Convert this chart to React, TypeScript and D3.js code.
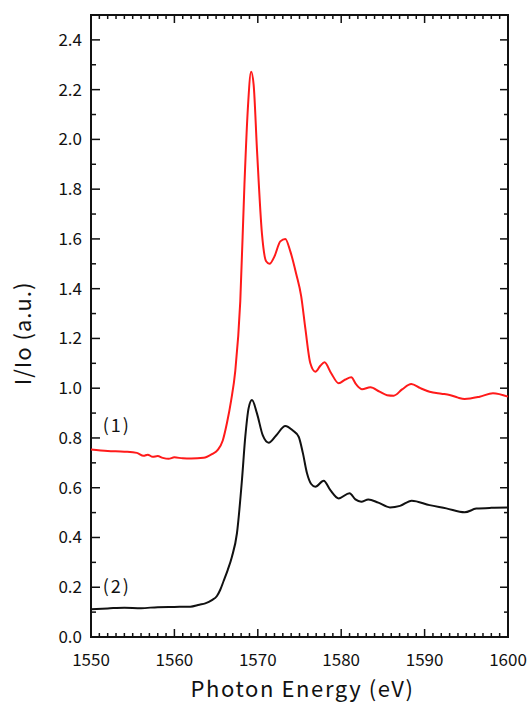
import React, { useEffect, useRef } from 'react';
import * as d3 from 'd3';

// spectrum (1), red
const energy1 = [1550, 1552, 1554, 1555.5, 1556.3, 1556.8, 1557.4, 1558, 1558.6, 1559.3, 1560, 1561, 1562, 1563.5, 1564.5, 1565.2, 1565.8, 1566.3, 1566.8, 1567.3, 1567.9, 1568.4, 1568.8, 1569.2, 1569.5, 1569.9, 1570.5, 1571.0, 1571.4, 1572.0, 1572.7, 1573.3, 1573.9, 1574.6, 1575.2, 1575.7, 1576.3, 1576.9, 1577.5, 1578.0, 1578.8, 1579.7, 1580.5, 1581.2, 1581.8, 1582.5, 1583.5, 1584.6, 1585.5, 1586.3, 1587.3, 1588.4, 1589.5, 1590.6, 1592, 1593, 1594, 1594.8, 1596.6, 1598.2, 1600];
const intensity1 = [0.754, 0.748, 0.745, 0.74, 0.728, 0.733, 0.724, 0.727, 0.72, 0.716, 0.722, 0.718, 0.717, 0.72, 0.735, 0.752, 0.79, 0.86, 0.95, 1.07, 1.35, 1.82, 2.12, 2.272, 2.22, 1.96, 1.62, 1.51, 1.5, 1.53, 1.59, 1.6, 1.55, 1.46, 1.37, 1.24, 1.1, 1.066, 1.09, 1.104, 1.06, 1.02, 1.035, 1.044, 1.015, 0.996, 1.004, 0.986, 0.972, 0.97, 0.995, 1.017, 1.0, 0.986, 0.978, 0.973, 0.962, 0.957, 0.966, 0.98, 0.966];

// spectrum (2), black
const energy2 = [1550, 1552, 1554, 1556, 1558, 1560, 1561.9, 1563, 1563.7, 1564.5, 1565.1, 1565.5, 1565.9, 1566.4, 1566.9, 1567.5, 1568.1, 1568.5, 1568.9, 1569.3, 1569.9, 1570.6, 1571.3, 1572.2, 1573.3, 1574.2, 1574.9, 1575.4, 1575.9, 1576.4, 1576.9, 1577.9, 1578.7, 1579.7, 1581.0, 1581.7, 1582.4, 1583.25, 1584.45, 1585.85, 1587.05, 1588.45, 1590.6, 1592.6, 1594.8, 1596.2, 1598, 1600];
const intensity2 = [0.112, 0.115, 0.118, 0.116, 0.12, 0.121, 0.122, 0.13, 0.135, 0.148, 0.165, 0.19, 0.225, 0.27, 0.323, 0.417, 0.631, 0.805, 0.92, 0.953, 0.899, 0.81, 0.781, 0.81, 0.848, 0.83, 0.805, 0.74, 0.658, 0.615, 0.604, 0.628, 0.59, 0.557, 0.578, 0.553, 0.544, 0.553, 0.54, 0.521, 0.527, 0.548, 0.53, 0.517, 0.501, 0.516, 0.519, 0.52];

const xTicks = [1550, 1560, 1570, 1580, 1590, 1600];
const yTicks = [0, 0.2, 0.4, 0.6, 0.8, 1.0, 1.2, 1.4, 1.6, 1.8, 2.0, 2.2, 2.4];

const seriesLabels = ['(1)', '(2)'];
const labelAnchors = [0.85, 0.2]; // baseline level of each curve label

const W = 531;
const H = 702;
const FONT = '"Noto Sans CJK JP", "Noto Sans", sans-serif';
const INK = '#111';

export default function App() {
  const ref = useRef<SVGSVGElement>(null);

  useEffect(() => {
    const svg = d3.select(ref.current);
    svg.selectAll('*').remove();

    const margin = { top: 15, right: 23, bottom: 65, left: 91 };
    const width = W - margin.left - margin.right;
    const height = H - margin.top - margin.bottom;

    const x = d3.scaleLinear().domain([1550, 1600]).range([0, width]);
    const y = d3.scaleLinear().domain([0, 2.5]).range([height, 0]);

    const g = svg.append('g').attr('transform', `translate(${margin.left},${margin.top})`);

    const xMinor = d3.range(1550, 1600.5, 1);
    const yMinor = d3.range(0, 2.55, 0.1);

    // bottom axis
    const bottom = g.append('g').attr('transform', `translate(0,${height})`);
    bottom.selectAll('line').data(xMinor).enter().append('line')
      .attr('x1', d => x(d)).attr('x2', d => x(d))
      .attr('y1', 0).attr('y2', d => (Math.round(d) % 10 === 0 ? -8 : -4))
      .attr('stroke', INK).attr('stroke-width', 1.5);
    bottom.selectAll('text').data(xTicks).enter().append('text')
      .attr('x', d => x(d)).attr('y', 29)
      .attr('text-anchor', 'middle')
      .attr('font-family', FONT).attr('font-size', 17).attr('fill', INK)
      .text(d => d);

    // top axis
    const top = g.append('g');
    top.selectAll('line').data(xMinor).enter().append('line')
      .attr('x1', d => x(d)).attr('x2', d => x(d))
      .attr('y1', 0).attr('y2', d => (Math.round(d) % 10 === 0 ? 8 : 4))
      .attr('stroke', INK).attr('stroke-width', 1.5);

    // left axis
    const left = g.append('g');
    left.selectAll('line').data(yMinor).enter().append('line')
      .attr('y1', d => y(d)).attr('y2', d => y(d))
      .attr('x1', 0).attr('x2', d => (Math.round(d * 10) % 2 === 0 ? 9 : 5))
      .attr('stroke', INK).attr('stroke-width', 1.5);
    left.selectAll('text').data(yTicks).enter().append('text')
      .attr('x', -9).attr('y', d => y(d) + 6)
      .attr('text-anchor', 'end')
      .attr('font-family', FONT).attr('font-size', 17).attr('fill', INK)
      .text(d => d.toFixed(1));

    // right axis
    const right = g.append('g').attr('transform', `translate(${width},0)`);
    right.selectAll('line').data(yMinor).enter().append('line')
      .attr('y1', d => y(d)).attr('y2', d => y(d))
      .attr('x1', 0).attr('x2', d => (Math.round(d * 10) % 2 === 0 ? -8 : -4))
      .attr('stroke', INK).attr('stroke-width', 1.5);

    // frame
    g.append('rect')
      .attr('x', 0).attr('y', 0).attr('width', width).attr('height', height)
      .attr('fill', 'none').attr('stroke', INK).attr('stroke-width', 2);

    const line = d3.line<[number, number]>()
      .x(d => x(d[0]))
      .y(d => y(d[1]))
      .curve(d3.curveMonotoneX);

    const s1 = energy1.map((e, i) => [e, intensity1[i]] as [number, number]);
    const s2 = energy2.map((e, i) => [e, intensity2[i]] as [number, number]);

    g.append('path').datum(s1)
      .attr('d', line).attr('fill', 'none')
      .attr('stroke', '#ff1a1a').attr('stroke-width', 2);
    g.append('path').datum(s2)
      .attr('d', line).attr('fill', 'none')
      .attr('stroke', INK).attr('stroke-width', 2);

    // curve labels
    g.selectAll('.lab').data(seriesLabels).enter().append('text')
      .attr('class', 'lab')
      .attr('x', x(1551.4)).attr('y', (d, i) => y(labelAnchors[i]) + 6)
      .attr('font-family', FONT).attr('font-size', 18).attr('fill', INK)
      .attr('letter-spacing', 2)
      .text(d => d);

    // axis titles
    svg.append('text')
      .attr('x', margin.left + width / 2 + 3).attr('y', 697)
      .attr('text-anchor', 'middle')
      .attr('font-family', FONT).attr('font-size', 22).attr('fill', INK)
      .attr('letter-spacing', 1.6)
      .text('Photon Energy (eV)');

    svg.append('text')
      .attr('transform', `translate(31,${margin.top + y(1.22)}) rotate(-90)`)
      .attr('text-anchor', 'middle')
      .attr('font-family', FONT).attr('font-size', 22).attr('fill', INK)
      .attr('letter-spacing', 1)
      .text('I/Io (a.u.)');
  }, []);

  return (
    <svg
      ref={ref}
      width={W}
      height={H}
      style={{ position: 'absolute', left: 0, top: 0, background: '#fff' }}
    />
  );
}
